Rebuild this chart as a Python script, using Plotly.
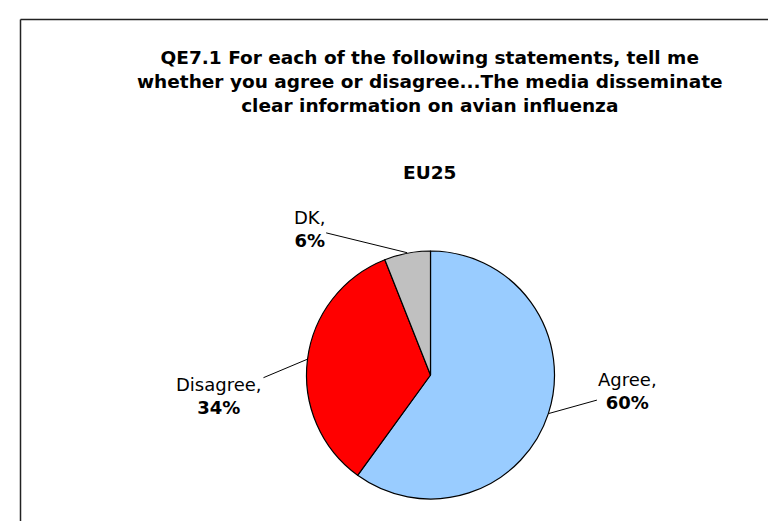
import math

import plotly.graph_objects as go

TITLE_LINES = [
    "QE7.1 For each of the following statements, tell me",
    "whether you agree or disagree...The media disseminate",
    "clear information on avian influenza",
]
SUBTITLE = "EU25"

LABELS = ["Agree", "Disagree", "DK"]
VALUES = [60, 34, 6]
COLORS = ["#99CCFF", "#FF0000", "#C0C0C0"]

W, H = 776, 521
PIE_X = (298, 547)  # pixel box of the pie
PIE_Y = (243, 491)
FONT = "DejaVu Sans, Verdana, sans-serif"

# label text offset from the slice edge, in pixels
LABEL_OFFSETS = [(79, -22), (-88, 37), (-98, -24)]


def _edge_point(mid_fraction: float) -> tuple[float, float]:
    cx = (PIE_X[0] + PIE_X[1]) / 2
    cy = (PIE_Y[0] + PIE_Y[1]) / 2
    r = (PIE_X[1] - PIE_X[0]) / 2
    theta = 2 * math.pi * mid_fraction
    px = cx + r * math.sin(theta)
    py = cy - r * math.cos(theta)
    return px / W, 1 - py / H


fig = go.Figure(
    go.Pie(
        labels=LABELS,
        values=VALUES,
        sort=False,
        direction="clockwise",
        rotation=0,
        textinfo="none",
        hoverinfo="label+percent",
        marker={"colors": COLORS, "line": {"color": "#000000", "width": 1.2}},
        domain={
            "x": [PIE_X[0] / W, PIE_X[1] / W],
            "y": [1 - PIE_Y[1] / H, 1 - PIE_Y[0] / H],
        },
        showlegend=False,
    )
)

total = sum(VALUES)
cumulative = 0
annotations = []
for label, value, (ax, ay) in zip(LABELS, VALUES, LABEL_OFFSETS):
    mid = (cumulative + value / 2) / total
    cumulative += value
    x, y = _edge_point(mid)
    annotations.append(
        {
            "x": x,
            "y": y,
            "xref": "paper",
            "yref": "paper",
            "text": f"{label},<br><b>{round(100 * value / total)}%</b>",
            "showarrow": True,
            "arrowhead": 0,
            "arrowwidth": 1,
            "arrowcolor": "#000000",
            "ax": ax,
            "ay": ay,
            "font": {"family": FONT, "size": 18, "color": "#000000"},
            "align": "center",
        }
    )

annotations.append(
    {
        "x": 422 / W,
        "y": 1 - 73 / H,
        "xref": "paper",
        "yref": "paper",
        "yanchor": "middle",
        "showarrow": False,
        "text": "<br>".join(f"<b>{line}</b>" for line in TITLE_LINES),
        "font": {"family": FONT, "size": 18.5, "color": "#000000"},
        "align": "center",
    }
)
annotations.append(
    {
        "x": 422 / W,
        "y": 1 - 152 / H,
        "xref": "paper",
        "yref": "paper",
        "showarrow": False,
        "text": f"<b>{SUBTITLE}</b>",
        "font": {"family": FONT, "size": 18.5, "color": "#000000"},
    }
)

fig.update_layout(
    width=W,
    height=H,
    margin={"l": 0, "r": 0, "t": 0, "b": 0},
    paper_bgcolor="#FFFFFF",
    plot_bgcolor="#FFFFFF",
    annotations=annotations,
    shapes=[
        {
            "type": "line",
            "xref": "paper",
            "yref": "paper",
            "x0": 12.5 / W,
            "x1": 1,
            "y0": 1 - 11.5 / H,
            "y1": 1 - 11.5 / H,
            "line": {"color": "#222222", "width": 1.5},
        },
        {
            "type": "line",
            "xref": "paper",
            "yref": "paper",
            "x0": 12.5 / W,
            "x1": 12.5 / W,
            "y0": 0,
            "y1": 1 - 11.5 / H,
            "line": {"color": "#222222", "width": 1.5},
        },
    ],
)

fig.write_html("out.html")
